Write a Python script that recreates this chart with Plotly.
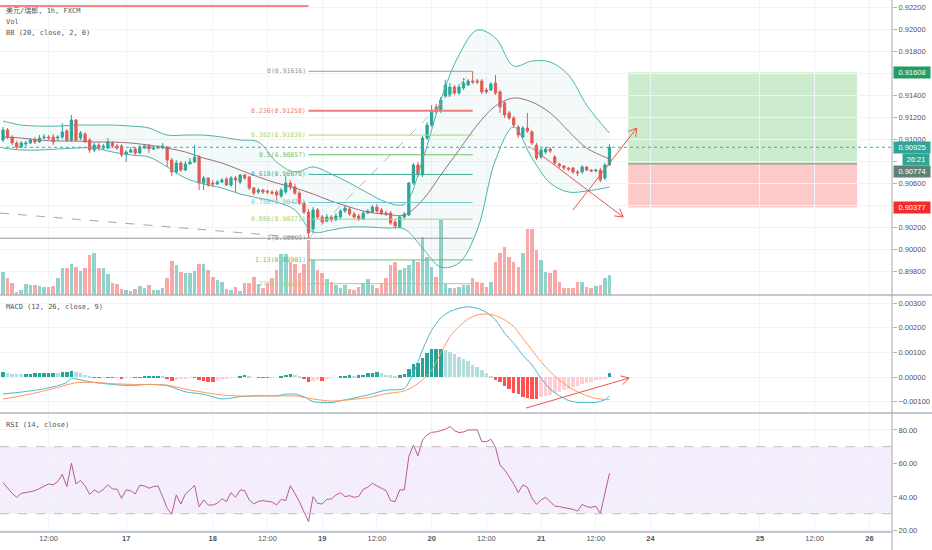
import math
import plotly.graph_objects as go

# USD/CHF 1h bars (bar index = hour slot on the chart)
opens = [0.90991, 0.91082, 0.91018, 0.90964, 0.90927, 0.90955, 0.90964, 0.90991, 0.90973, 0.91009,
         0.91018, 0.91018, 0.91009, 0.91018, 0.91073, 0.90991, 0.91173, 0.91009, 0.91046, 0.90991,
         0.90900, 0.90945, 0.90918, 0.90918, 0.90964, 0.90936, 0.90936, 0.90864, 0.90882, 0.90909,
         0.90873, 0.90918, 0.90936, 0.90909, 0.90918, 0.90918, 0.90927, 0.90809, 0.90700, 0.90782,
         0.90718, 0.90773, 0.90791, 0.90836, 0.90600, 0.90645, 0.90600, 0.90591, 0.90609, 0.90636,
         0.90582, 0.90645, 0.90609, 0.90673, 0.90655, 0.90555, 0.90518, 0.90536, 0.90527, 0.90518,
         0.90518, 0.90482, 0.90518, 0.90600, 0.90564, 0.90509, 0.90418, 0.90336, 0.90182, 0.90355,
         0.90291, 0.90255, 0.90291, 0.90264, 0.90291, 0.90346, 0.90364, 0.90318, 0.90300, 0.90273,
         0.90327, 0.90336, 0.90382, 0.90355, 0.90327, 0.90327, 0.90245, 0.90200, 0.90291, 0.90309,
         0.90600, 0.90764, 0.90673, 0.91009, 0.91127, 0.91291, 0.91255, 0.91391, 0.91400, 0.91473,
         0.91419, 0.91464, 0.91491, 0.91528, 0.91528, 0.91528, 0.91446, 0.91446, 0.91509, 0.91428,
         0.91328, 0.91237, 0.91191, 0.91109, 0.91018, 0.91100, 0.91064, 0.90945, 0.90836, 0.90882,
         0.90909, 0.90836, 0.90773, 0.90755, 0.90736, 0.90736, 0.90700, 0.90700, 0.90746, 0.90718,
         0.90709, 0.90718, 0.90645, 0.90764]
highs = [0.91109, 0.91100, 0.91036, 0.90982, 0.90982, 0.90982, 0.91009, 0.91018, 0.91036, 0.91046,
         0.91036, 0.91046, 0.91036, 0.91146, 0.91091, 0.91218, 0.91182, 0.91073, 0.91064, 0.91009,
         0.90964, 0.90964, 0.90955, 0.91009, 0.90982, 0.90955, 0.90955, 0.90900, 0.90927, 0.90927,
         0.90945, 0.90955, 0.90955, 0.90936, 0.90945, 0.90964, 0.90936, 0.90827, 0.90809, 0.90800,
         0.90800, 0.90827, 0.90945, 0.90855, 0.90664, 0.90655, 0.90627, 0.90627, 0.90645, 0.90655,
         0.90664, 0.90664, 0.90682, 0.90682, 0.90664, 0.90564, 0.90555, 0.90545, 0.90536, 0.90536,
         0.90536, 0.90555, 0.90664, 0.90627, 0.90591, 0.90527, 0.90436, 0.90364, 0.90382, 0.90373,
         0.90309, 0.90318, 0.90309, 0.90327, 0.90364, 0.90400, 0.90382, 0.90336, 0.90318, 0.90346,
         0.90364, 0.90400, 0.90409, 0.90373, 0.90346, 0.90346, 0.90264, 0.90309, 0.90336, 0.90609,
         0.90782, 0.90791, 0.91027, 0.91155, 0.91309, 0.91319, 0.91382, 0.91537, 0.91509, 0.91491,
         0.91500, 0.91555, 0.91546, 0.91616, 0.91546, 0.91546, 0.91464, 0.91518, 0.91582, 0.91446,
         0.91346, 0.91255, 0.91209, 0.91127, 0.91118, 0.91237, 0.91082, 0.90964, 0.90918, 0.90927,
         0.90927, 0.90855, 0.90782, 0.90764, 0.90746, 0.90746, 0.90718, 0.90764, 0.90755, 0.90727,
         0.90727, 0.90736, 0.90782, 0.90955]
lows = [0.90973, 0.91000, 0.90945, 0.90900, 0.90918, 0.90936, 0.90955, 0.90955, 0.90964, 0.91000,
        0.90991, 0.90945, 0.90982, 0.91000, 0.90973, 0.90973, 0.90973, 0.90991, 0.90964, 0.90873,
        0.90882, 0.90891, 0.90900, 0.90909, 0.90918, 0.90900, 0.90836, 0.90791, 0.90873, 0.90855,
        0.90864, 0.90909, 0.90873, 0.90900, 0.90909, 0.90909, 0.90746, 0.90664, 0.90682, 0.90700,
        0.90709, 0.90773, 0.90782, 0.90536, 0.90536, 0.90564, 0.90564, 0.90582, 0.90600, 0.90573,
        0.90564, 0.90509, 0.90591, 0.90627, 0.90536, 0.90491, 0.90500, 0.90500, 0.90500, 0.90491,
        0.90445, 0.90464, 0.90500, 0.90536, 0.90491, 0.90400, 0.90318, 0.90098, 0.90145, 0.90273,
        0.90227, 0.90245, 0.90245, 0.90255, 0.90273, 0.90327, 0.90300, 0.90273, 0.90255, 0.90264,
        0.90318, 0.90327, 0.90327, 0.90309, 0.90300, 0.90218, 0.90182, 0.90191, 0.90273, 0.90300,
        0.90582, 0.90655, 0.90655, 0.90991, 0.91109, 0.91228, 0.91237, 0.91373, 0.91382, 0.91400,
        0.91400, 0.91446, 0.91482, 0.91500, 0.91500, 0.91409, 0.91409, 0.91437, 0.91400, 0.91237,
        0.91191, 0.91173, 0.91100, 0.91009, 0.91009, 0.91055, 0.90945, 0.90809, 0.90818, 0.90864,
        0.90873, 0.90764, 0.90736, 0.90718, 0.90709, 0.90682, 0.90664, 0.90682, 0.90709, 0.90700,
        0.90700, 0.90609, 0.90627, 0.90755]
closes = [0.91082, 0.91018, 0.90964, 0.90927, 0.90964, 0.90964, 0.90991, 0.90973, 0.91009, 0.91018,
          0.91009, 0.90973, 0.91018, 0.91064, 0.90991, 0.91173, 0.90991, 0.91055, 0.90982, 0.90900,
          0.90945, 0.90918, 0.90936, 0.90973, 0.90936, 0.90918, 0.90855, 0.90882, 0.90900, 0.90873,
          0.90927, 0.90936, 0.90909, 0.90918, 0.90927, 0.90936, 0.90809, 0.90700, 0.90782, 0.90718,
          0.90773, 0.90791, 0.90836, 0.90600, 0.90645, 0.90582, 0.90591, 0.90609, 0.90627, 0.90582,
          0.90645, 0.90627, 0.90673, 0.90645, 0.90555, 0.90509, 0.90536, 0.90518, 0.90518, 0.90509,
          0.90491, 0.90536, 0.90600, 0.90564, 0.90509, 0.90418, 0.90336, 0.90145, 0.90355, 0.90291,
          0.90245, 0.90291, 0.90264, 0.90300, 0.90346, 0.90373, 0.90318, 0.90291, 0.90273, 0.90327,
          0.90346, 0.90382, 0.90346, 0.90327, 0.90318, 0.90236, 0.90209, 0.90291, 0.90318, 0.90600,
          0.90764, 0.90673, 0.91009, 0.91127, 0.91264, 0.91246, 0.91355, 0.91491, 0.91473, 0.91419,
          0.91473, 0.91509, 0.91528, 0.91518, 0.91518, 0.91428, 0.91428, 0.91500, 0.91419, 0.91291,
          0.91218, 0.91191, 0.91127, 0.91036, 0.91100, 0.91073, 0.90964, 0.90827, 0.90900, 0.90909,
          0.90891, 0.90782, 0.90755, 0.90736, 0.90727, 0.90700, 0.90691, 0.90746, 0.90718, 0.90709,
          0.90718, 0.90627, 0.90764, 0.90925]
volume = [2300, 1700, 1200, 300, 500, 1100, 1000, 1000, 900, 800, 800, 900, 1700, 2700, 2700,
          3100, 2800, 2400, 2700, 4000, 4200, 2700, 2700, 2100, 1200, 1100, 600, 500, 400, 600,
          900, 700, 1000, 500, 500, 700, 1700, 3400, 3000, 2300, 2200, 2200, 2400, 3100, 3100,
          2500, 1800, 1500, 1300, 600, 500, 800, 400, 1200, 1200, 1800, 1100, 700, 1200, 1700,
          2500, 4100, 4100, 3300, 3100, 2200, 3100, 5500, 3500, 2500, 2200, 1600, 1300, 1000, 700,
          1000, 600, 500, 800, 1200, 1600, 1000, 700, 1200, 1700, 3000, 3300, 2500, 2700, 3000,
          3500, 3300, 5800, 3800, 2800, 1800, 7500, 1200, 700, 700, 800, 1000, 1000, 1700, 1300,
          1200, 800, 1300, 3300, 4200, 4800, 3800, 3300, 2800, 4200, 6600, 6600, 4500, 3500, 2300,
          2200, 2500, 1300, 700, 700, 700, 1300, 1300, 800, 700, 900, 1000, 1700, 2000]

# Bollinger Bands (20, 2) read every 4 bars
bb_bars = list(range(0, 133, 4)) + [133]
bb_upper = [0.91164, 0.91127, 0.91118, 0.91118, 0.91127, 0.91127, 0.91127, 0.91118, 0.91100, 0.91036,
            0.91036, 0.91036, 0.91018, 0.90991, 0.90973, 0.90791, 0.90700, 0.90746, 0.90682, 0.90600,
            0.90509, 0.90427, 0.90409, 0.90809, 0.91355, 0.91764, 0.91991, 0.91918, 0.91664, 0.91709,
            0.91700, 0.91582, 0.91309, 0.91100, 0.91055]
bb_basis = [0.91018, 0.91009, 0.90991, 0.90982, 0.90982, 0.90973, 0.90973, 0.90964, 0.90945, 0.90918,
            0.90882, 0.90827, 0.90782, 0.90718, 0.90655, 0.90600, 0.90555, 0.90500, 0.90436, 0.90382,
            0.90336, 0.90318, 0.90309, 0.90445, 0.90673, 0.90900, 0.91127, 0.91300, 0.91373, 0.91336,
            0.91237, 0.91073, 0.90918, 0.90836, 0.90818]
bb_lower = [0.90918, 0.90900, 0.90900, 0.90909, 0.90918, 0.90918, 0.90882, 0.90855, 0.90836, 0.90746,
            0.90645, 0.90591, 0.90555, 0.90500, 0.90464, 0.90427, 0.90355, 0.90155, 0.90173, 0.90200,
            0.90200, 0.90191, 0.90182, 0.90009, 0.89836, 0.89873, 0.90173, 0.90809, 0.91109, 0.90827,
            0.90600, 0.90518, 0.90527, 0.90555, 0.90564]

# MACD (12, 26, 9)
macd_bars = [0, 4, 8, 12, 14, 15, 16, 20, 24, 28, 32, 36, 40, 44, 48, 52, 56, 60, 62, 64, 66, 68,
             72, 76, 80, 84, 88, 90, 92, 94, 96, 98, 100, 102, 104, 106, 108, 110, 112, 114, 116,
             118, 120, 122, 124, 126, 128, 130, 132, 133]
macd_line = [-0.00069, -0.00061, -0.00051, -0.00035, -0.00022, -0.00005, -0.00008, -0.00022,
             -0.00030, -0.00035, -0.00030, -0.00035, -0.00060, -0.00070, -0.00089, -0.00080,
             -0.00076, -0.00076, -0.00070, -0.00069, -0.00080, -0.00100, -0.00103, -0.00089,
             -0.00073, -0.00053, -0.00047, 0.00015, 0.00110, 0.00190, 0.00240, 0.00266, 0.00279,
             0.00285, 0.00279, 0.00263, 0.00232, 0.00178, 0.00137, 0.00089, 0.00049, -0.00005,
             -0.00049, -0.00076, -0.00095, -0.00103, -0.00103, -0.00103, -0.00093, -0.00076]
signal_bars = [0, 4, 8, 12, 16, 20, 24, 28, 32, 36, 40, 44, 48, 52, 56, 60, 64, 68, 72, 76, 80,
               84, 88, 90, 92, 94, 96, 98, 100, 102, 104, 106, 108, 110, 112, 114, 116, 118, 120,
               122, 124, 126, 128, 130, 132, 133]
signal_line = [-0.00089, -0.00076, -0.00061, -0.00042, -0.00023, -0.00022, -0.00027, -0.00030,
               -0.00030, -0.00033, -0.00049, -0.00062, -0.00073, -0.00077, -0.00077, -0.00077,
               -0.00077, -0.00089, -0.00098, -0.00092, -0.00084, -0.00068, -0.00057, -0.00039,
               -0.00012, 0.00028, 0.00096, 0.00164, 0.00205, 0.00236, 0.00252, 0.00256, 0.00249,
               0.00232, 0.00205, 0.00157, 0.00110, 0.00062, 0.00022, -0.00012, -0.00039, -0.00060,
               -0.00076, -0.00087, -0.00091, -0.00091]
macd_hist = [0.00022, 0.00015, 0.00014, 0.00012, 0.00011, 0.00011, 0.00012, 0.00015, 0.00016, 0.00016,
             0.00016, 0.00018, 0.00015, 0.00019, 0.00019, 0.00026, 0.00020, 0.00015, 0.00010, 0.00003,
             -0.00003, -0.00003, -0.00001, -0.00001, -0.00003, -0.00001, -0.00007, -0.00003, -0.00001, -0.00001,
             -0.00003, 0.00001, 0.00004, 0.00004, 0.00004, 0.00003, -0.00007, -0.00016, -0.00011, -0.00007,
             -0.00004, -0.00001, -0.00001, -0.00014, -0.00015, -0.00019, -0.00020, -0.00014, -0.00009, -0.00004,
             -0.00003, 0.00000, 0.00004, 0.00009, 0.00003, 0.00000, -0.00003, -0.00003, -0.00003, -0.00001,
             0.00000, 0.00005, 0.00009, 0.00012, 0.00009, 0.00001, -0.00008, -0.00020, -0.00015, -0.00014,
             -0.00015, -0.00008, -0.00003, 0.00000, 0.00004, 0.00005, 0.00007, 0.00005, 0.00007, 0.00009,
             0.00015, 0.00018, 0.00020, 0.00015, 0.00009, 0.00007, 0.00005, 0.00008, 0.00012, 0.00033,
             0.00052, 0.00056, 0.00079, 0.00096, 0.00112, 0.00112, 0.00114, 0.00110, 0.00103, 0.00093,
             0.00083, 0.00072, 0.00064, 0.00049, 0.00042, 0.00030, 0.00016, 0.00001, -0.00010, -0.00020,
             -0.00035, -0.00050, -0.00064, -0.00070, -0.00080, -0.00084, -0.00088, -0.00091, -0.00080, -0.00076,
             -0.00072, -0.00066, -0.00061, -0.00054, -0.00047, -0.00042, -0.00037, -0.00030, -0.00024, -0.00019,
             -0.00014, -0.00010, -0.00005, 0.00015]

# RSI (14)
rsi = [48.6, 45.2, 42.2, 39.8, 42.2, 42.6, 43.2, 43.8, 45.0, 46.6, 47.8, 47.2, 49.2, 53.5, 46.2,
       60.1, 47.8, 49.8, 46.6, 41.6, 44.2, 42.6, 44.6, 47.2, 44.8, 44.6, 39.2, 44.2, 43.8, 41.8,
       47.0, 46.6, 45.2, 46.2, 46.6, 40.2, 33.2, 29.7, 41.2, 35.8, 41.8, 44.2, 47.0, 34.2, 38.2,
       35.2, 35.2, 36.2, 39.0, 37.2, 42.6, 39.8, 44.2, 43.8, 38.2, 35.8, 37.4, 37.8, 37.6, 37.0,
       35.2, 38.6, 37.8, 46.6, 42.2, 37.2, 31.2, 25.3, 40.2, 36.2, 35.8, 38.6, 38.8, 41.2, 42.6,
       40.2, 40.8, 39.8, 40.2, 44.6, 45.8, 48.2, 46.6, 45.0, 43.8, 37.8, 37.2, 44.2, 44.2, 64.1,
       71.0, 64.5, 74.0, 77.0, 78.6, 78.8, 79.6, 80.4, 82.0, 79.6, 78.4, 78.8, 80.0, 80.0, 80.0,
       73.0, 73.0, 74.4, 69.7, 59.1, 56.1, 52.1, 47.8, 42.6, 47.2, 45.8, 39.2, 35.6, 38.2, 39.8,
       37.2, 34.6, 34.2, 33.8, 33.4, 32.6, 31.6, 35.6, 34.2, 33.8, 34.6, 30.2, 42.2, 54.1]

# time axis labels (bar index of each label)
tick_bars = [10, 27, 46, 58, 70, 82, 94, 106, 118, 130, 142, 166, 178, 190]
tick_text = ["12:00", "<b>17</b>", "<b>18</b>", "12:00", "<b>19</b>", "12:00", "<b>20</b>", "12:00",
             "<b>21</b>", "12:00", "<b>24</b>", "<b>25</b>", "12:00", "<b>26</b>"]

# price scale ticks (labels hidden where a price tag covers them)
price_ticks = [0.898, 0.900, 0.902, 0.904, 0.906, 0.908, 0.910, 0.912, 0.914, 0.916, 0.918, 0.920, 0.922]
price_tick_text = ['0.89800', '0.90000', '0.90200', '', '0.90600', '', '0.91000', '0.91200',
                   '0.91400', '', '0.91800', '0.92000', '0.92200']

# Fibonacci retracement drawn from the swing low to the swing high
fib_start, fib_end = 67, 103
fib_levels = [0, 0.236, 0.382, 0.5, 0.618, 0.786, 0.886, 1, 1.13, 1.272]
fib_prices = [0.91616, 0.91258, 0.91036, 0.90857, 0.90678, 0.90423, 0.90271, 0.90098, 0.89901, 0.89685]
fib_colors = ['#9598a1', '#f07c7c', '#a9d46e', '#6cbf6c', '#3fae95', '#72c6d2',
              '#a9d46e', '#9598a1', '#6cbf6c', '#a9d46e']

# long position tool
pos_left, pos_right = 137.1, 187.3
take_profit, entry, stop_loss = 0.91608, 0.90774, 0.90377
last_price = 0.90925

UP, DOWN = '#26a69a', '#ef5350'
GRID = '#f0f3fa'
TXT = '#50535e'
MONO = 'DejaVu Sans Mono, Noto Sans CJK SC, monospace'
SANS = 'Liberation Sans, Arial, sans-serif'
PX_PER_BAR = 4.56

D_PRICE = [0.4455, 1.0]
D_MACD = [0.2237, 0.4455]
D_RSI = [0.0, 0.2237]

bars = list(range(len(closes)))
vol_colors = ['rgba(38,166,154,0.5)' if c >= o else 'rgba(239,83,80,0.5)'
              for o, c in zip(opens, closes)]

hist_colors = []
for i, h in enumerate(macd_hist):
    prev = macd_hist[i - 1] if i else h
    if h >= 0:
        hist_colors.append('#26a69a' if h >= prev else '#b2dfdb')
    else:
        hist_colors.append('#ffcdd2' if h > prev else '#ff5252')

fig = go.Figure()

# volume on the base axis of the price pane, prices on the overlay
fig.add_trace(go.Bar(x=bars, y=volume, marker_color=vol_colors, marker_line_width=0,
                     width=0.78, xaxis='x3', yaxis='y', hoverinfo='skip'))

fig.add_trace(go.Scatter(x=bb_bars, y=bb_upper, mode='lines', line=dict(color='#4fb3a6', width=1, shape='spline'),
                         xaxis='x3', yaxis='y4', hoverinfo='skip'))
fig.add_trace(go.Scatter(x=bb_bars, y=bb_lower, mode='lines', line=dict(color='#4fb3a6', width=1, shape='spline'),
                         fill='tonexty', fillcolor='rgba(79,179,166,0.07)',
                         xaxis='x3', yaxis='y4', hoverinfo='skip'))
fig.add_trace(go.Scatter(x=bb_bars, y=bb_basis, mode='lines', line=dict(color='#9b6f79', width=1, shape='spline'),
                         xaxis='x3', yaxis='y4', hoverinfo='skip'))

fig.add_trace(go.Candlestick(
    x=bars, open=opens, high=highs, low=lows, close=closes,
    increasing=dict(line=dict(color=UP, width=1), fillcolor=UP),
    decreasing=dict(line=dict(color=DOWN, width=1), fillcolor=DOWN),
    whiskerwidth=0, xaxis='x3', yaxis='y4', hoverinfo='skip'))

# MACD pane
fig.add_trace(go.Bar(x=bars, y=macd_hist, marker_color=hist_colors, marker_line_width=0,
                     width=0.78, xaxis='x2', yaxis='y2', hoverinfo='skip'))
fig.add_trace(go.Scatter(x=macd_bars, y=macd_line, mode='lines',
                         line=dict(color='#45b8cc', width=1, shape='spline', smoothing=0.6),
                         xaxis='x2', yaxis='y2', hoverinfo='skip'))
fig.add_trace(go.Scatter(x=signal_bars, y=signal_line, mode='lines',
                         line=dict(color='#ff945c', width=1, shape='spline', smoothing=0.6),
                         xaxis='x2', yaxis='y2', hoverinfo='skip'))

# RSI pane
fig.add_trace(go.Scatter(x=bars, y=rsi, mode='lines', line=dict(color='#b85c8c', width=1),
                         xaxis='x', yaxis='y3', hoverinfo='skip'))

shapes = []
annotations = []


def arrow(x0, y0, x1, y1, sy, xref, yref, color='#f05050'):
    dx, dy = (x1 - x0) * PX_PER_BAR, (y1 - y0) * sy
    n = math.hypot(dx, dy)
    ux, uy = -dx / n, -dy / n
    out = [dict(type='line', xref=xref, yref=yref, x0=x0, y0=y0, x1=x1, y1=y1,
                line=dict(color=color, width=1))]
    for a in (math.radians(30), -math.radians(30)):
        rx = ux * math.cos(a) - uy * math.sin(a)
        ry = ux * math.sin(a) + uy * math.cos(a)
        out.append(dict(type='line', xref=xref, yref=yref, x0=x1, y0=y1,
                        x1=x1 + rx * 9 / PX_PER_BAR, y1=y1 + ry * 9 / sy,
                        line=dict(color=color, width=1)))
    return out


# position tool boxes
shapes += [
    dict(type='rect', xref='x3', yref='y4', x0=pos_left, x1=pos_right, y0=entry, y1=take_profit,
         fillcolor='rgba(100,195,100,0.32)', line_width=0, layer='below'),
    dict(type='rect', xref='x3', yref='y4', x0=pos_left, x1=pos_right, y0=stop_loss, y1=entry,
         fillcolor='rgba(248,90,90,0.32)', line_width=0, layer='below'),
    dict(type='line', xref='x3', yref='y4', x0=pos_left, x1=pos_right, y0=entry, y1=entry,
         line=dict(color='#7d8480', width=1)),
]

# manual drawings
shapes += [
    dict(type='line', xref='x3', yref='y4', x0=-1, x1=67, y0=0.92209, y1=0.92209,
         line=dict(color='rgba(240,110,110,0.85)', width=2)),
    dict(type='line', xref='x3', yref='y4', x0=-0.66, x1=fib_start, y0=0.90327, y1=fib_prices[-3],
         line=dict(color='#a3a6ae', width=1, dash='dash')),
    dict(type='line', xref='x3', yref='y4', x0=fib_start, x1=fib_end, y0=fib_prices[7], y1=fib_prices[0],
         line=dict(color='#b0b3ba', width=1, dash='dash')),
]
for lvl, p, c in zip(fib_levels, fib_prices, fib_colors):
    x0 = -1 if lvl == 1 else fib_start
    shapes.append(dict(type='line', xref='x3', yref='y4', x0=x0, x1=fib_end, y0=p, y1=p,
                       line=dict(color=c, width=2 if lvl == 0.236 else 1)))
    annotations.append(dict(xref='x3', yref='y4', x=fib_start, y=p, xanchor='right', yanchor='middle',
                            xshift=-1, text='%g(%.5f)' % (lvl, p), showarrow=False,
                            font=dict(family=MONO, size=6.5, color=c)))

shapes += arrow(116.0, 0.90918, 136.0, 0.90291, 11000, 'x3', 'y4')
shapes += arrow(125.0, 0.90355, 139.0, 0.91100, 11000, 'x3', 'y4')
shapes += arrow(114.7, -0.00126, 137.3, -0.00004, 24600, 'x2', 'y2')

# last price dotted line
shapes.append(dict(type='line', xref='paper', yref='y4', x0=0, x1=1, y0=last_price, y1=last_price,
                   line=dict(color='#3fb0a3', width=1, dash='dot')))

# RSI band
shapes += [
    dict(type='rect', xref='paper', yref='y3', x0=0, x1=1, y0=30, y1=70,
         fillcolor='rgba(155,100,230,0.11)', line_width=0, layer='below'),
    dict(type='line', xref='paper', yref='y3', x0=0, x1=1, y0=70, y1=70,
         line=dict(color='#c4bccb', width=1, dash='dash')),
    dict(type='line', xref='paper', yref='y3', x0=0, x1=1, y0=30, y1=30,
         line=dict(color='#c4bccb', width=1, dash='dash')),
]

# pane separators and price scale border
for yy in (D_PRICE[0], D_MACD[0]):
    shapes.append(dict(type='line', xref='paper', yref='paper', x0=0, x1=1.05, y0=yy, y1=yy,
                       line=dict(color='#b2b5be', width=1.5)))
shapes.append(dict(type='line', xref='paper', yref='paper', x0=0, x1=1, y0=0, y1=0,
                   line=dict(color='#b2b5be', width=1.5)))
shapes.append(dict(type='line', xref='paper', yref='paper', x0=1, x1=1, y0=-0.04, y1=1,
                   line=dict(color='#b2b5be', width=1.2)))

# pane titles
for txt, yy in [('美元/瑞郎, 1h, FXCM', 0.981), ('Vol', 0.959), ('BB (20, close, 2, 0)', 0.938),
                ('MACD (12, 26, close, 9)', 0.423), ('RSI (14, close)', 0.201)]:
    annotations.append(dict(xref='paper', yref='paper', x=0, y=yy, xshift=4, xanchor='left',
                            yanchor='middle', text=txt, showarrow=False,
                            font=dict(family=MONO, size=7, color=TXT)))

# price scale tags
for price, bg, ys, xs, w, txt in [
        (take_profit, '#1f9d63', 0, 1, 34, '%.5f' % take_profit),
        (last_price, '#2fa596', 0, 1, 34, '%.5f' % last_price),
        (last_price, '#2fa596', -12, 10, 24, '26:21'),
        (entry, '#5f8276', -8, 1, 34, '%.5f' % entry),
        (stop_loss, '#f52a2a', 0, 1, 34, '%.5f' % stop_loss)]:
    annotations.append(dict(xref='paper', yref='y4', x=1, y=price, xanchor='left', yanchor='middle',
                            xshift=xs, yshift=ys, text=txt, showarrow=False, bgcolor=bg,
                            width=w, height=9, align='center', borderpad=1,
                            font=dict(family=SANS, size=7.5, color='white')))

xcommon = dict(range=[-0.66, 194.96], tickvals=tick_bars, ticktext=tick_text, showgrid=True,
               gridcolor=GRID, gridwidth=1, zeroline=False, showline=False, ticks='',
               fixedrange=True)
ycommon = dict(side='right', showgrid=True, gridcolor=GRID, zeroline=False, showline=False,
               ticks='outside', ticklen=4, tickcolor='#b2b5be',
               tickfont=dict(family=SANS, size=7.5, color=TXT))

fig.update_layout(
    width=932, height=550,
    margin=dict(l=0, r=40, t=0, b=18),
    paper_bgcolor='white', plot_bgcolor='white',
    showlegend=False, bargap=0,
    xaxis=dict(anchor='y3', domain=[0, 1], tickfont=dict(family=SANS, size=7.5, color=TXT), **xcommon),
    xaxis2=dict(anchor='y2', domain=[0, 1], matches='x', showticklabels=False, **xcommon),
    xaxis3=dict(anchor='y', domain=[0, 1], matches='x', showticklabels=False,
                rangeslider=dict(visible=False), **xcommon),
    yaxis=dict(domain=D_PRICE, anchor='x3', range=[0, 29500], visible=False, showgrid=False),
    yaxis4=dict(overlaying='y', anchor='x3', range=[0.89582, 0.92264],
                tickvals=price_ticks, ticktext=price_tick_text, **ycommon),
    yaxis2=dict(domain=D_MACD, anchor='x2', range=[-0.00146, 0.00333],
                tickvals=[-0.001, 0, 0.001, 0.002, 0.003], tickformat='.5f', **ycommon),
    yaxis3=dict(domain=D_RSI, anchor='x', range=[19.1, 90.1], tickvals=[20, 40, 60, 80],
                tickformat='.2f', **ycommon),
    shapes=shapes,
    annotations=annotations,
)

# the page body has a default margin; drop it so the chart fills the window
fig.write_html("out.html", config={'displayModeBar': False},
               post_script="document.body.style.margin='0';")
